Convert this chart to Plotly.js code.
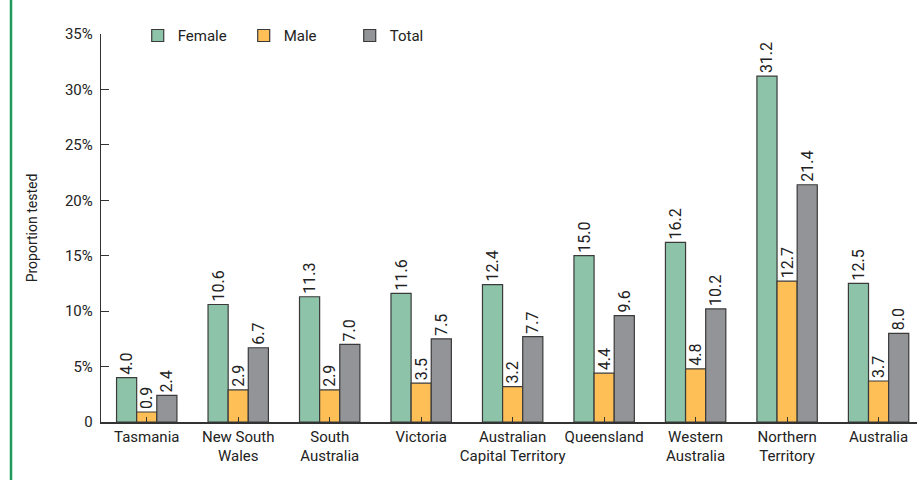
<!DOCTYPE html>
<html>
<head>
<meta charset="utf-8">
<script src="https://cdn.plot.ly/plotly-3.0.1.min.js"></script>
<style>
  html, body { margin: 0; padding: 0; background: #fff; overflow: hidden; }
  #chart { width: 917px; height: 480px; }
</style>
</head>
<body>
<div id="chart"></div>
<script>
const categories = ["Tasmania", "New South<br>Wales", "South<br>Australia", "Victoria",
  "Australian<br>Capital Territory", "Queensland", "Western<br>Australia",
  "Northern<br>Territory", "Australia"];
const female = [4.0, 10.6, 11.3, 11.6, 12.4, 15.0, 16.2, 31.2, 12.5];
const male   = [0.9, 2.9, 2.9, 3.5, 3.2, 4.4, 4.8, 12.7, 3.7];
const total  = [2.4, 6.7, 7.0, 7.5, 7.7, 9.6, 10.2, 21.4, 8.0];
const yTickVals = [0, 5, 10, 15, 20, 25, 30, 35];
const yTickText = ["0", "5%", "10%", "15%", "20%", "25%", "30%", "35%"];

const FONT = 'Roboto, Liberation Sans, sans-serif';
const idx = categories.map((_, i) => i);

function series(name, values, color) {
  return {
    type: 'bar', name: name, x: idx, y: values,
    marker: { color: color, line: { color: '#3a3a3a', width: 1.2 } },
    texttemplate: '%{y:.1f}', textposition: 'outside', textangle: -90,
    constraintext: 'none', cliponaxis: false,
    textfont: { family: FONT, size: 16, color: '#222' },
    hoverinfo: 'none'
  };
}

const data = [
  series('Female', female, '#8dc4a9'),
  series('Male', male, '#fdbf56'),
  series('Total', total, '#939497')
];

const layout = {
  width: 917, height: 480,
  margin: { l: 101, r: 0, t: 34, b: 58 },
  paper_bgcolor: '#fff', plot_bgcolor: '#fff',
  font: { family: FONT, size: 15, color: '#222' },
  barmode: 'group', bargap: 0.34, bargroupgap: 0,
  showlegend: true,
  legend: {
    orientation: 'h', x: 0.045, xanchor: 'left', y: 1.038, yanchor: 'top',
    font: { family: FONT, size: 15, color: '#222' },
    itemwidth: 30, entrywidth: 61, entrywidthmode: 'pixels',
    bgcolor: 'rgba(0,0,0,0)'
  },
  xaxis: {
    tickvals: idx, ticktext: categories, tickangle: 0,
    range: [-0.5, 8.42],
    showline: true, linecolor: '#333', linewidth: 1.5,
    ticks: 'inside', tickson: 'boundaries', ticklen: 5, tickcolor: '#333',
    showgrid: false, zeroline: false, fixedrange: true,
    tickfont: { family: FONT, size: 15, color: '#222' }
  },
  yaxis: {
    range: [0, 35], tickvals: yTickVals, ticktext: yTickText,
    showline: true, linecolor: '#333', linewidth: 1.2,
    ticks: 'inside', ticklen: 8, tickcolor: '#333',
    ticklabelstandoff: 4,
    showgrid: false, zeroline: false, fixedrange: true,
    tickfont: { family: FONT, size: 15, color: '#222' },
    title: { text: 'Proportion tested', font: { family: FONT, size: 14, color: '#222' }, standoff: 24 }
  },
  shapes: [{
    type: 'line', xref: 'paper', yref: 'paper', xsizemode: 'pixel', xanchor: 0,
    x0: -90, x1: -90, y0: -0.2, y1: 1.1,
    line: { color: '#1f9a5c', width: 2.5 }
  }]
};

Plotly.newPlot('chart', data, layout, { displayModeBar: false, staticPlot: true });
</script>
</body>
</html>
